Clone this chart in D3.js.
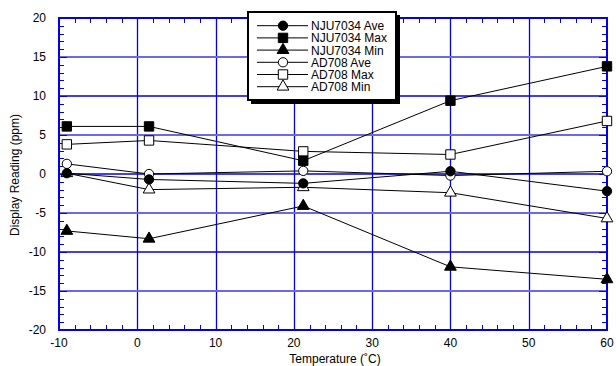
<!DOCTYPE html>
<html>
<head>
<meta charset="utf-8">
<script src="https://cdn.jsdelivr.net/npm/d3@7"></script>
<style>
  body { margin: 0; background: #fff; }
  svg { display: block; font-family: 'Liberation Sans', Arial, sans-serif; }
</style>
</head>
<body>
<svg id="chart" width="616" height="366"></svg>
<script>
const temps = [-9, 1.5, 21.2, 40, 60];
const njuAve = [0.1, -0.7, -1.2, 0.35, -2.2];
const njuMax = [6.1, 6.1, 1.7, 9.4, 13.8];
const njuMin = [-7.3, -8.3, -4.1, -11.9, -13.5];
const adAve = [1.3, 0, 0.4, -0.2, 0.35];
const adMax = [3.8, 4.3, 2.9, 2.5, 6.8];
const adMin = [0.1, -2.0, -1.7, -2.4, -5.7];
const xTicks = [-10, 0, 10, 20, 30, 40, 50, 60];
const yTicks = [-20, -15, -10, -5, 0, 5, 10, 15, 20];

const series = [
  { name: 'NJU7034 Ave', values: njuAve, shape: 'circle', filled: true },
  { name: 'NJU7034 Max', values: njuMax, shape: 'square', filled: true },
  { name: 'NJU7034 Min', values: njuMin, shape: 'triangle', filled: true },
  { name: 'AD708 Ave', values: adAve, shape: 'circle', filled: false },
  { name: 'AD708 Max', values: adMax, shape: 'square', filled: false },
  { name: 'AD708 Min', values: adMin, shape: 'triangle', filled: false }
];

const svg = d3.select('#chart');
const pL = 59, pR = 607, pT = 18, pB = 330;

const x = d3.scaleLinear().domain([-10, 60]).range([pL, pR]);
const y = d3.scaleLinear().domain([-20, 20]).range([pB, pT]);

// grid
const grid = svg.append('g');
grid.selectAll('line.v')
  .data(xTicks.slice(1, -1))
  .join('line')
  .attr('x1', d => Math.round(x(d)) + 0.5).attr('x2', d => Math.round(x(d)) + 0.5)
  .attr('y1', pT).attr('y2', pB)
  .attr('stroke', '#0000ee').attr('stroke-width', 1.3);
grid.selectAll('line.h')
  .data(yTicks.slice(1, -1))
  .join('line')
  .attr('x1', pL).attr('x2', pR)
  .attr('y1', d => y(d)).attr('y2', d => y(d))
  .attr('stroke', d => (d % 10 === 0 ? '#0000ee' : '#6a6ae6'))
  .attr('stroke-width', d => (d % 10 === 0 ? 1.3 : 2));

// minor ticks
const tk = svg.append('g').attr('stroke', '#0000ee').attr('stroke-width', 1);
const yMinor = d3.range(-20, 21, 1);
const xMinor = d3.range(-10, 61, 2);
tk.selectAll('line.yl').data(yMinor).join('line')
  .attr('x1', pL).attr('x2', d => pL + (d % 5 === 0 ? 8 : 5))
  .attr('y1', d => Math.round(y(d)) + 0.5).attr('y2', d => Math.round(y(d)) + 0.5);
tk.selectAll('line.yr').data(yMinor).join('line')
  .attr('x1', pR).attr('x2', d => pR - (d % 5 === 0 ? 8 : 5))
  .attr('y1', d => Math.round(y(d)) + 0.5).attr('y2', d => Math.round(y(d)) + 0.5);
tk.selectAll('line.xb').data(xMinor).join('line')
  .attr('y1', pB).attr('y2', d => pB - (d % 10 === 0 ? 8 : 5))
  .attr('x1', d => Math.round(x(d)) + 0.5).attr('x2', d => Math.round(x(d)) + 0.5);
tk.selectAll('line.xt').data(xMinor).join('line')
  .attr('y1', pT).attr('y2', d => pT + (d % 10 === 0 ? 8 : 5))
  .attr('x1', d => Math.round(x(d)) + 0.5).attr('x2', d => Math.round(x(d)) + 0.5);

// frame
svg.append('rect')
  .attr('x', pL).attr('y', pT)
  .attr('width', pR - pL).attr('height', pB - pT)
  .attr('fill', 'none').attr('stroke', '#0000ee').attr('stroke-width', 2);

// tick labels
svg.append('g').selectAll('text').data(yTicks).join('text')
  .attr('x', 46).attr('y', d => y(d) + 4)
  .attr('text-anchor', 'end').attr('font-size', 12)
  .text(d => d);
svg.append('g').selectAll('text').data(xTicks).join('text')
  .attr('x', d => x(d)).attr('y', pB + 17)
  .attr('text-anchor', 'middle').attr('font-size', 12)
  .text(d => d);

// axis titles
svg.append('text')
  .attr('transform', `translate(19,175) rotate(-90)`)
  .attr('text-anchor', 'middle').attr('font-size', 12)
  .text('Display Reading (ppm)');
svg.append('text')
  .attr('x', 335).attr('y', 362.5)
  .attr('text-anchor', 'middle').attr('font-size', 12)
  .text('Temperature (˚C)');

const symbolFor = shape => {
  if (shape === 'circle') return d3.symbol().type(d3.symbolCircle).size(68)();
  if (shape === 'square') return d3.symbol().type(d3.symbolSquare).size(88)();
  return d3.symbol().type(d3.symbolTriangle).size(60)();
};

// lines
const line = d3.line()
  .x((d, i) => x(temps[i]))
  .y(d => y(d));
svg.append('g').selectAll('path').data(series).join('path')
  .attr('fill', 'none').attr('stroke', '#000').attr('stroke-width', 1)
  .attr('d', d => line(d.values));

// markers: AD708 first so the NJU7034 symbols sit on top
series.slice().reverse().forEach(s => {
  svg.append('g').selectAll('path').data(s.values).join('path')
    .attr('transform', (d, i) => `translate(${x(temps[i])},${y(d)})`)
    .attr('d', symbolFor(s.shape))
    .attr('fill', s.filled ? '#000' : '#fff')
    .attr('stroke', '#000').attr('stroke-width', 1);
});

// legend
const lg = svg.append('g');
lg.append('rect').attr('x', 251).attr('y', 15).attr('width', 149).attr('height', 89).attr('fill', '#000');
lg.append('rect').attr('x', 248).attr('y', 12).attr('width', 148).attr('height', 88)
  .attr('fill', '#fff').attr('stroke', '#000').attr('stroke-width', 2);
const rows = lg.selectAll('g.row').data(series).join('g')
  .attr('transform', (d, i) => `translate(0,${25.7 + i * 12.2})`);
rows.append('line').attr('x1', 257).attr('x2', 308).attr('y1', 0).attr('y2', 0)
  .attr('stroke', '#000').attr('stroke-width', 1);
rows.append('path')
  .attr('transform', 'translate(283,0)')
  .attr('d', d => symbolFor(d.shape))
  .attr('fill', d => (d.filled ? '#000' : '#fff'))
  .attr('stroke', '#000').attr('stroke-width', 1);
rows.append('text').attr('x', 311).attr('y', 4.5)
  .attr('font-size', 12).text(d => d.name);
</script>
</body>
</html>
